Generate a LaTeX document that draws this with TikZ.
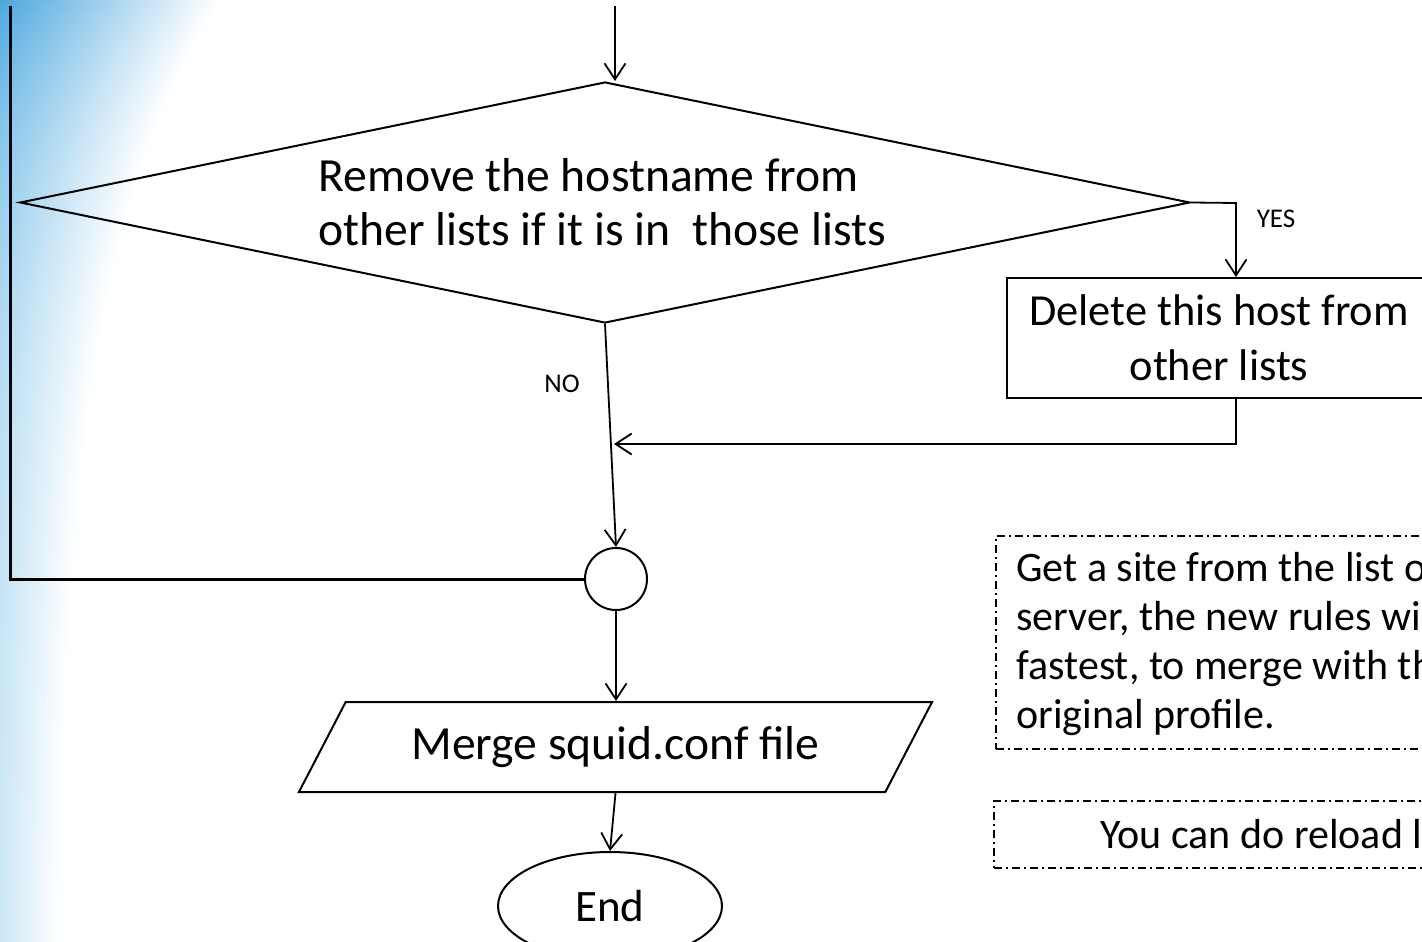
\documentclass[tikz,border=0pt]{standalone}
\usepackage{fontspec}
\setmainfont{Carlito}
\usetikzlibrary{shapes.geometric,arrows.meta}
\definecolor{bgA}{RGB}{78,168,222}
\definecolor{bgB}{RGB}{205,232,247}
\begin{document}
\begin{tikzpicture}[x=0.5pt,y=-0.5pt,
  shapeline/.style={draw=black,line width=1pt},
  arr/.style={draw=black,line width=0.9pt,-{Straight Barb[length=8pt,width=10.5pt]}},
  loopline/.style={draw=black,line width=1.5pt},
  notebox/.style={draw=black,line width=0.8pt,dash pattern=on 4pt off 2pt on 1pt off 2pt},
  notetext/.style={font=\fontsize{21}{24.5}\selectfont,align=left,inner sep=0pt,anchor=west},
  lbl/.style={font=\fontsize{13.5}{16}\selectfont,inner sep=0pt}
]
\useasboundingbox (0,0) rectangle (1422,941);
\clip (0,0) rectangle (1422,941);
\fill[white] (0,0) rectangle (1422,941);
% background gradient
\foreach \i in {0,...,188}{
  \pgfmathsetmacro{\yyv}{\i*5}
  \pgfmathsetmacro{\pmix}{100*(1-exp(-\yyv/220))}
  \pgfmathsetmacro{\wid}{55+165*exp(-\yyv/260)}
  \colorlet{stripc}{bgB!\pmix!bgA}
  \shade[left color=stripc, right color=white] (0,\yyv) rectangle (\wid,\yyv+5.6);
}

% decision
\node[diamond, shapeline, aspect=4.85, minimum width=585pt, minimum height=120.5pt, inner sep=0pt] (dec) at (605,202.5) {};
\node[font=\fontsize{23.8}{27}\selectfont, align=left, inner sep=0pt, anchor=west] (dectext) at (318,202) {Remove the hostname from\\other lists if it is in\ \ those lists};

% delete box
\node[rectangle, shapeline, minimum width=212pt, minimum height=60pt, inner sep=0pt, align=center,
      font=\fontsize{22.2}{27.5}\selectfont] (del) at (1219,338) {Delete this host from\\other lists};

% junction
\node[circle, shapeline, minimum size=31pt, inner sep=0pt] (jn) at (616,579) {};

% merge
\node[trapezium, shapeline, trapezium left angle=49.4, trapezium right angle=130.6, trapezium stretches=true,
      minimum width=317.5pt, minimum height=45pt, inner sep=0pt, font=\fontsize{23.8}{28}\selectfont] (merge) at (615.5,747) {Merge squid.conf file};

% end
\node[ellipse, shapeline, minimum width=112pt, minimum height=54pt, inner sep=0pt, font=\fontsize{22.5}{27}\selectfont] (end) at (610,906) {End};

% notes
\node[notebox, anchor=north west, minimum width=300pt, minimum height=106.5pt, inner sep=0pt] (note1) at (995,535) {};
\node[notetext] (note1t) at (1016,644) {Get a site from the list o\\server, the new rules wi\\fastest, to merge with th\\original profile.};
\node[notebox, anchor=north west, minimum width=300pt, minimum height=33.5pt, inner sep=0pt] (note2) at (993,800) {};
\node[notetext] (note2t) at (1100,834) {You can do reload l};

% labels
\node[lbl] (yes) at (1276,219) {YES};
\node[lbl] (no) at (562,384) {NO};

% connectors
\coordinate (src) at (615,6);
\draw[arr] (src) -- (src |- dec.north);
\coordinate (ycol) at (1236,203);
\draw[arr] (dec.east) -- (ycol) -- (ycol |- del.north);
\coordinate (jin) at (614,444);
\draw[arr] (ycol |- del.south) |- (jin);
\draw[arr] (dec.south) -- (jn.north);
\coordinate (lc) at (10,579);
\coordinate (lt) at (10,6);
\draw[loopline] (jn.west) -- (lc) -- (lt);
\draw[arr] (jn.south) -- (jn.south |- merge.north);
\draw[arr] (merge.south) -- (end.north);
\end{tikzpicture}
\end{document}
